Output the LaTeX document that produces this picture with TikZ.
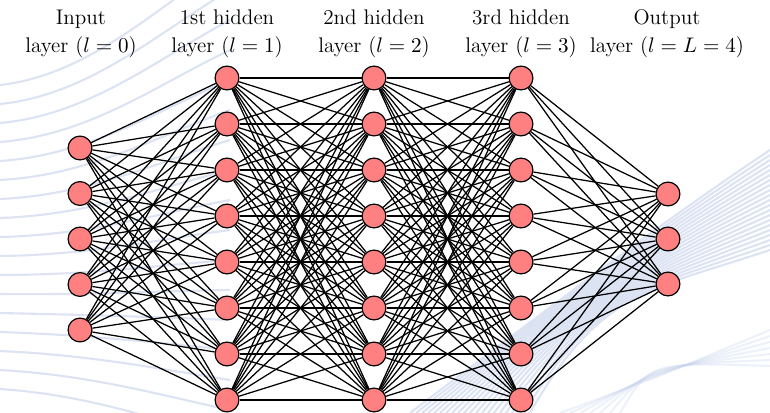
\documentclass[tikz,border=0pt]{standalone}
\pgfdeclarelayer{waves}
\pgfdeclarelayer{edges}
\pgfsetlayers{waves,edges,main}
\definecolor{neuron}{RGB}{255,128,128}
\definecolor{wave}{RGB}{196,208,234}
\tikzset{
  neuronnode/.style={circle,draw=black,fill=neuron,line width=0.6pt,minimum size=12.4pt,inner sep=0pt},
  link/.style={draw=black,line width=0.65pt},
  layerlabel/.style={align=center,font=\fontsize{11}{14.5}\selectfont},
  wavy/.style={draw=wave,line width=1.1pt,opacity=0.6}
}
\begin{document}
\begin{tikzpicture}[x=0.52pt,y=-0.52pt]
\useasboundingbox (0,0) rectangle (770,413);
% background waves
\begin{pgfonlayer}{waves}
\foreach \i in {0,...,16}{
  \draw[wavy] (0,{85+\i*19}) .. controls (90,{75+\i*20}) and (160,{5+\i*26}) .. (230,{-40+\i*30});
}
\foreach \i in {0,...,20}{
  \draw[wavy] ({410+\i*6},413) .. controls ({520+\i*4},{330-\i*2}) and (650,{230+\i*3}) .. (770,{150+\i*5});
}
\foreach \i in {0,...,6}{
  \draw[wavy,opacity=0.3] ({560+\i*10},413) .. controls (650,{380-\i*3}) .. (770,{330+\i*6});
}
\end{pgfonlayer}
% labels
\node[layerlabel] (L0) at (81,34) {Input\\layer ($l=0$)};
\node[layerlabel] (L1) at (227,34) {1st hidden\\layer ($l=1$)};
\node[layerlabel] (L2) at (374,34) {2nd hidden\\layer ($l=2$)};
\node[layerlabel] (L3) at (521,34) {3rd hidden\\layer ($l=3$)};
\node[layerlabel] (L4) at (667,34) {Output\\layer ($l=L=4$)};
% neurons
\foreach \j in {1,...,5}{
  \node[neuronnode] (I\j) at (80,{148+(\j-1)*45.5}) {};
}
\foreach \l/\x in {A/227,B/374,C/521}{
  \foreach \j in {1,...,8}{
    \node[neuronnode] (\l\j) at (\x,{78+(\j-1)*46}) {};
  }
}
\foreach \j in {1,...,3}{
  \node[neuronnode] (O\j) at (668,{194+(\j-1)*45}) {};
}
% connections
\begin{pgfonlayer}{edges}
\foreach \a in {1,...,5}{\foreach \b in {1,...,8}{\draw[link] (I\a) -- (A\b);}}
\foreach \a in {1,...,8}{\foreach \b in {1,...,8}{\draw[link] (A\a) -- (B\b); \draw[link] (B\a) -- (C\b);}}
\foreach \a in {1,...,8}{\foreach \b in {1,...,3}{\draw[link] (C\a) -- (O\b);}}
\end{pgfonlayer}
\end{tikzpicture}
\end{document}
